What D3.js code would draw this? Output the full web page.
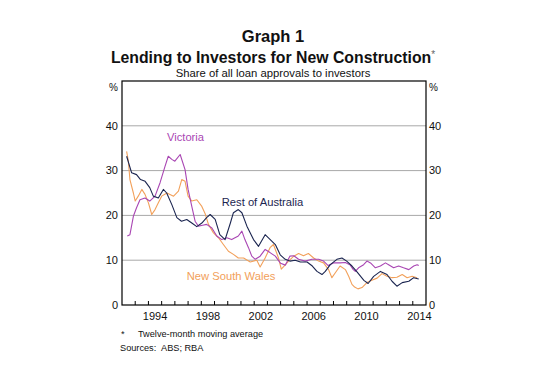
<!DOCTYPE html>
<html>
<head>
<meta charset="utf-8">
<script src="https://cdn.jsdelivr.net/npm/d3@7"></script>
<style>
  body { margin: 0; background: #fff; }
  text { font-family: "Liberation Sans", Arial, sans-serif; }
</style>
</head>
<body>
<div id="chart"></div>
<script>
// Rest of Australia, twelve-month moving average (decimal year, per cent)
const restYears = [1992.35, 1992.73, 1993.1, 1993.4, 1993.75, 1994.1, 1994.37, 1994.75, 1995.13, 1995.38,
  1995.77, 1996.15, 1996.5, 1996.9, 1997.28, 1997.66, 1998.04, 1998.4, 1998.67, 1999.05,
  1999.4, 1999.8, 2000.2, 2000.43, 2000.8, 2001.07, 2001.45, 2001.95, 2002.33, 2002.83,
  2003.08, 2003.6, 2003.97, 2004.35, 2004.7, 2005.1, 2005.5, 2006.0, 2006.4, 2006.75,
  2007.13, 2007.38, 2007.76, 2008.26, 2008.64, 2009.0, 2009.4, 2009.78, 2010.3, 2010.62,
  2011.04, 2011.55, 2012.05, 2012.43, 2012.8, 2013.2, 2013.7, 2014.07, 2014.45]
const restValues = [33.2, 29.5, 29.1, 28.0, 27.6, 26.2, 24.3, 23.9, 25.8, 25.0,
  22.4, 19.5, 18.7, 19.1, 18.3, 17.5, 18.3, 19.5, 20.2, 19.1,
  15.7, 14.6, 18.3, 20.6, 21.3, 20.6, 17.6, 14.6, 13.1, 15.7,
  15.0, 13.5, 11.2, 10.2, 9.8, 10.0, 9.6, 9.6, 8.7, 7.5,
  6.8, 7.5, 9.0, 10.2, 10.5, 9.8, 8.7, 7.4, 5.5, 4.8,
  6.4, 7.5, 6.8, 5.3, 4.2, 5.0, 5.3, 6.1, 5.8]

const vicYears = [1992.4, 1992.6, 1992.86, 1993.1, 1993.36, 1993.74, 1994.1, 1994.5, 1994.88, 1995.26,
  1995.5, 1995.77, 1996.0, 1996.4, 1996.77, 1997.0, 1997.28, 1997.53, 1997.78, 1998.1,
  1998.4, 1998.8, 1999.17, 1999.55, 1999.93, 2000.3, 2000.8, 2001.07, 2001.3, 2001.57,
  2001.82, 2002.08, 2002.45, 2002.83, 2003.2, 2003.6, 2004.0, 2004.35, 2004.7, 2005.0,
  2005.36, 2005.86, 2006.37, 2006.87, 2007.25, 2007.6, 2008.0, 2008.5, 2008.9, 2009.27,
  2009.5, 2009.65, 2009.9, 2010.28, 2010.53, 2010.8, 2011.17, 2011.55, 2011.93, 2012.17,
  2012.55, 2012.93, 2013.3, 2013.7, 2014.07, 2014.33, 2014.45]
const vicValues = [15.4, 15.7, 19.8, 21.7, 23.5, 23.9, 23.2, 24.3, 27.3, 31.0,
  33.2, 32.5, 32.1, 33.6, 30.2, 25.8, 22.0, 18.7, 17.6, 17.8,
  18.0, 17.2, 15.4, 14.6, 15.0, 14.6, 15.4, 16.5, 14.6, 12.8,
  10.9, 10.2, 10.9, 12.4, 11.7, 10.9, 9.3, 8.9, 10.9, 11.0,
  10.2, 9.8, 10.2, 10.2, 9.8, 8.8, 9.4, 9.4, 9.5, 8.9,
  7.9, 7.5, 8.3, 9.0, 9.8, 9.4, 8.3, 8.7, 9.4, 9.0,
  8.3, 8.7, 8.3, 7.9, 8.7, 9.0, 8.8]

const nswYears = [1992.35, 1992.48, 1992.6, 1992.86, 1993.0, 1993.23, 1993.5, 1993.74, 1994.0, 1994.25,
  1994.5, 1994.75, 1995.0, 1995.4, 1995.9, 1996.27, 1996.52, 1996.77, 1997.0, 1997.28,
  1997.66, 1998.04, 1998.3, 1998.54, 1998.92, 1999.3, 1999.67, 2000.05, 2000.43, 2000.8,
  2001.2, 2001.7, 2002.2, 2002.45, 2002.83, 2003.2, 2003.46, 2003.84, 2004.05, 2004.3,
  2004.6, 2005.0, 2005.36, 2005.73, 2006.1, 2006.5, 2006.87, 2007.25, 2007.63, 2007.88,
  2008.14, 2008.5, 2008.9, 2009.15, 2009.4, 2009.6, 2009.85, 2010.16, 2010.53, 2010.9,
  2011.3, 2011.67, 2012.05, 2012.43, 2012.8, 2013.2, 2013.57, 2013.95, 2014.33]
const nswValues = [34.3, 32.1, 28.0, 25.0, 23.2, 24.3, 25.8, 24.7, 22.8, 20.2,
  21.3, 22.8, 24.3, 25.0, 24.3, 25.4, 28.0, 27.6, 24.3, 23.2,
  23.5, 22.0, 20.3, 18.0, 16.1, 15.0, 13.5, 12.0, 11.3, 10.5,
  10.5, 9.6, 10.0, 8.5, 10.5, 12.8, 13.5, 10.5, 8.0, 8.8,
  9.8, 10.9, 11.5, 11.0, 11.5, 10.5, 9.8, 9.4, 7.9, 6.1,
  7.2, 8.7, 7.9, 6.4, 4.6, 4.0, 3.6, 3.9, 5.0, 5.5,
  6.0, 7.0, 6.4, 6.1, 6.2, 6.8, 6.1, 6.4, 6.1]

const yTicks = [0, 10, 20, 30, 40]
const gridValues = [10, 20, 30, 40]
const yearLabels = [1994, 1998, 2002, 2006, 2010, 2014]

const series = [
  { name: "New South Wales", years: nswYears, values: nswValues, color: "#f2a05a" },
  { name: "Victoria", years: vicYears, values: vicValues, color: "#a946b3" },
  { name: "Rest of Australia", years: restYears, values: restValues, color: "#1b2550" }
]

const width = 559
const height = 373
const plot = { left: 122, right: 426, top: 81, bottom: 305 }

const svg = d3.select("#chart")
  .append("svg")
  .attr("width", width)
  .attr("height", height)
  .style("background", "#fff")

const x = d3.scaleLinear().domain([1992, 2015]).range([plot.left, plot.right])
const y = d3.scaleLinear().domain([0, 50]).range([plot.bottom, plot.top])

// Titles
svg.append("text")
  .attr("x", 273).attr("y", 42)
  .attr("text-anchor", "middle")
  .attr("font-size", "16.5px").attr("font-weight", "bold")
  .attr("fill", "#111")
  .text("Graph 1")

const title = svg.append("text")
  .attr("x", 273).attr("y", 63)
  .attr("text-anchor", "middle")
  .attr("font-size", "15.8px").attr("font-weight", "bold")
  .attr("fill", "#111")
title.append("tspan").text("Lending to Investors for New Construction")
title.append("tspan")
  .attr("font-size", "10px").attr("font-weight", "normal")
  .attr("fill", "#666").attr("dy", "-5")
  .text("*")

svg.append("text")
  .attr("x", 273).attr("y", 77)
  .attr("text-anchor", "middle")
  .attr("font-size", "11.3px")
  .attr("fill", "#111")
  .text("Share of all loan approvals to investors")

// Gridlines
svg.append("g")
  .selectAll("line")
  .data(gridValues)
  .join("line")
  .attr("x1", plot.left).attr("x2", plot.right)
  .attr("y1", d => y(d)).attr("y2", d => y(d))
  .attr("stroke", "#a8a8a8")
  .attr("stroke-width", 1)

// Year tick marks along the bottom, pointing inwards
svg.append("g")
  .selectAll("line")
  .data(d3.range(1993, 2015))
  .join("line")
  .attr("x1", d => x(d)).attr("x2", d => x(d))
  .attr("y1", plot.bottom).attr("y2", plot.bottom - 4)
  .attr("stroke", "#000")

// Lines
const line = d3.line()
  .x(d => x(d[0]))
  .y(d => y(d[1]))

svg.append("g")
  .selectAll("path")
  .data(series)
  .join("path")
  .attr("fill", "none")
  .attr("stroke", d => d.color)
  .attr("stroke-width", 1.1)
  .attr("stroke-linejoin", "round")
  .attr("d", d => line(d3.zip(d.years, d.values)))

// Frame
svg.append("rect")
  .attr("x", plot.left).attr("y", plot.top)
  .attr("width", plot.right - plot.left)
  .attr("height", plot.bottom - plot.top)
  .attr("fill", "none")
  .attr("stroke", "#000")
  .attr("stroke-width", 1.2)

// Y labels both sides
const yLabels = svg.append("g")
  .attr("font-size", "11px")
  .attr("fill", "#111")

yLabels.selectAll(".yl")
  .data(yTicks)
  .join("text")
  .attr("x", plot.left - 4)
  .attr("y", d => y(d))
  .attr("dy", "0.35em")
  .attr("text-anchor", "end")
  .text(d => d)

yLabels.selectAll(".yr")
  .data(yTicks)
  .join("text")
  .attr("x", plot.right + 3)
  .attr("y", d => y(d))
  .attr("dy", "0.35em")
  .attr("text-anchor", "start")
  .text(d => d)

yLabels.append("text")
  .attr("x", plot.left - 4).attr("y", 87)
  .attr("dy", "0.35em")
  .attr("text-anchor", "end")
  .attr("font-size", "10px")
  .text("%")
yLabels.append("text")
  .attr("x", plot.right + 3).attr("y", 87)
  .attr("dy", "0.35em")
  .attr("font-size", "10px")
  .text("%")

// Year labels centred within each year
svg.append("g")
  .selectAll("text")
  .data(yearLabels)
  .join("text")
  .attr("x", d => x(d + 0.5))
  .attr("y", plot.bottom + 15)
  .attr("text-anchor", "middle")
  .attr("font-size", "11px")
  .attr("fill", "#111")
  .text(d => d)

// Series labels
const labelPos = [
  { name: "Victoria", at: [1995.4, 36.7], color: "#a946b3" },
  { name: "Rest of Australia", at: [1999.55, 22.2], color: "#1b2550" },
  { name: "New South Wales", at: [1996.9, 5.5], color: "#f2a05a" }
]
svg.append("g")
  .selectAll("text")
  .data(labelPos)
  .join("text")
  .attr("x", d => x(d.at[0]))
  .attr("y", d => y(d.at[1]))
  .attr("font-size", "11.2px")
  .attr("fill", d => d.color)
  .text(d => d.name)

// Footnotes
const notes = svg.append("g")
  .attr("font-size", "9.2px")
  .attr("fill", "#111")
notes.append("text").attr("x", 121).attr("y", 337).text("*")
notes.append("text").attr("x", 138).attr("y", 337).text("Twelve-month moving average")
notes.append("text").attr("x", 120).attr("y", 351).text("Sources:")
notes.append("text").attr("x", 161).attr("y", 351).text("ABS; RBA")
</script>
</body>
</html>
